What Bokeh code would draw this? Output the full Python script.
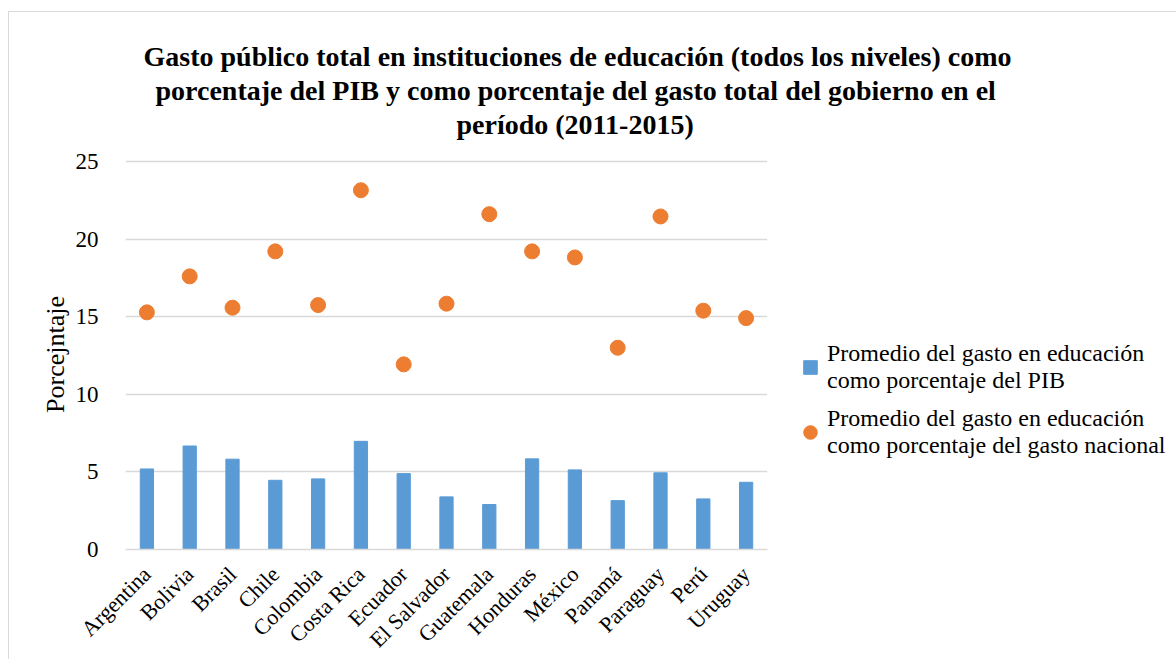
from bokeh.plotting import figure
from bokeh.models import ColumnDataSource, Range1d, Legend, LegendItem, Title, FixedTicker
from bokeh.embed import file_html
from bokeh.resources import INLINE
import math

countries = ["Argentina", "Bolivia", "Brasil", "Chile", "Colombia", "Costa Rica", "Ecuador",
             "El Salvador", "Guatemala", "Honduras", "México", "Panamá", "Paraguay", "Perú", "Uruguay"]
pib = [5.19, 6.67, 5.82, 4.46, 4.55, 6.97, 4.89, 3.39, 2.90, 5.84, 5.13, 3.15, 4.94, 3.26, 4.33]
gasto = [15.28, 17.60, 15.58, 19.21, 15.75, 23.15, 11.93, 15.84, 21.61, 19.21, 18.82, 13.00, 21.46, 15.39, 14.91]
y_ticks = [0, 5, 10, 15, 20, 25]

title_lines = ["Gasto público total en instituciones de educación (todos los niveles) como",
               "porcentaje del PIB y como porcentaje del gasto total del gobierno en el",
               "período (2011-2015)"]
title_offsets = [18, 30, 331]
label_pib = "Promedio del gasto en educación\ncomo porcentaje del PIB"
label_gasto = "Promedio del gasto en educación\ncomo porcentaje del gasto nacional"

FONT = "Liberation Serif"
BLUE = "#5B9BD5"
ORANGE = "#ED7D31"
GRID = "#D9D9D9"

src = ColumnDataSource(dict(country=countries, pib=pib, gasto=gasto))

p = figure(x_range=countries, y_range=Range1d(0, 25.13), frame_width=642, frame_height=390,
           output_backend="svg", toolbar_location=None, title_location=None,
           min_border_left=116, min_border_right=392, min_border_top=147, min_border_bottom=100)
p.outline_line_color = None
p.styles = {"border-left": "1px solid #d9d9d9", "border-top": "1px solid #d9d9d9",
            "margin-top": "11px", "margin-left": "8px"}

bars = p.vbar(x="country", top="pib", width=0.31, source=src, fill_color=BLUE, line_color=BLUE)
dots = p.scatter(x="country", y="gasto", size=15, source=src, fill_color=ORANGE, line_color=ORANGE)
# legend swatch for the bar series (zero-size marker, used only by the legend)
bar_key = p.scatter(x="country", y="pib", size=0, marker="square", source=src,
                    fill_color=BLUE, line_color=BLUE)

p.xgrid.grid_line_color = None
p.ygrid.grid_line_color = GRID
p.ygrid.grid_line_width = 1.3

p.yaxis.ticker = FixedTicker(ticks=y_ticks)
p.yaxis.axis_line_color = None
p.yaxis.major_tick_line_color = None
p.yaxis.minor_tick_line_color = None
p.yaxis.major_label_text_font = FONT
p.yaxis.major_label_text_font_size = "23px"
p.yaxis.major_label_text_color = "black"
p.yaxis.major_label_standoff = 21
p.yaxis.axis_label = "Porcejntaje"
p.yaxis.axis_label_text_font = FONT
p.yaxis.axis_label_text_font_size = "26px"
p.yaxis.axis_label_text_font_style = "normal"
p.yaxis.axis_label_text_color = "black"
p.yaxis.axis_label_standoff = 3

p.xaxis.axis_line_color = GRID
p.xaxis.axis_line_width = 1.3
p.xaxis.major_tick_line_color = None
p.xaxis.minor_tick_line_color = None
p.xaxis.major_label_orientation = math.pi / 4
p.xaxis.major_label_text_font = FONT
p.xaxis.major_label_text_font_size = "22px"
p.xaxis.major_label_text_color = "black"
p.xaxis.major_label_standoff = 15

legend = Legend(items=[LegendItem(label=label_pib, renderers=[bar_key]),
                       LegendItem(label=label_gasto, renderers=[dots])],
                location=(26, 90), glyph_width=34, glyph_height=34, label_standoff=0,
                spacing=11, border_line_color=None, background_fill_alpha=0, padding=0, margin=0,
                label_text_font=FONT, label_text_font_size="24px", label_text_color="black",
                label_text_line_height=1.16)
p.add_layout(legend, "right")

# spacer between the frame and the title block
p.add_layout(Title(text=" ", text_font_size="10px", standoff=5), "above")
for line, off in reversed(list(zip(title_lines, title_offsets))):
    p.add_layout(Title(text=line, align="left", offset=off, vertical_align="middle", standoff=1,
                       text_font=FONT, text_font_size="28px", text_font_style="bold",
                       text_color="black"), "above")

open("out.html", "w").write(file_html(p, INLINE))
